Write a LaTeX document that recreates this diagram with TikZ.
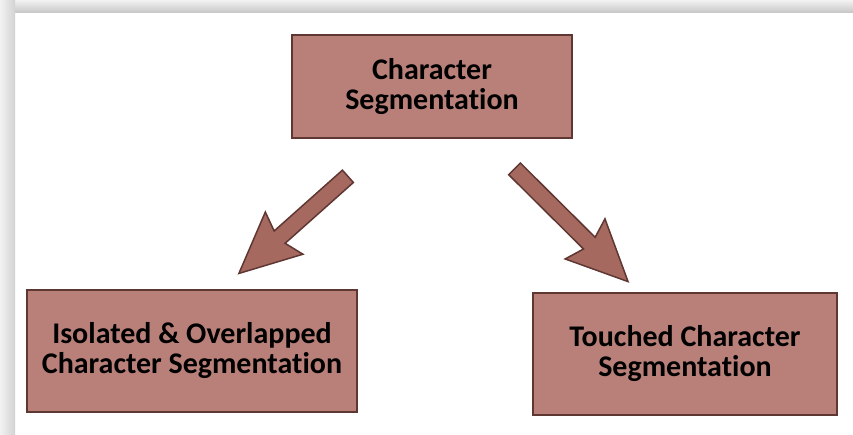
\documentclass[tikz,border=0pt]{standalone}
\usepackage{fontspec}
\setmainfont{Carlito}[Ligatures=NoCommon]
\usetikzlibrary{shapes.arrows}
\definecolor{boxfill}{RGB}{185,128,122}
\definecolor{boxedge}{RGB}{95,55,50}
\definecolor{arrowfill}{RGB}{165,105,96}
\begin{document}
\begin{tikzpicture}[x=1pt,y=-1pt,
    stage/.style={draw=boxedge,line width=2pt,fill=boxfill,align=center,
        font=\fontsize{30}{30}\selectfont\bfseries,inner sep=0pt},
    flow/.style={single arrow,draw=boxedge,line width=1.5pt,fill=arrowfill,
        inner sep=7.5pt,single arrow head extend=20pt,single arrow tip angle=50,
        single arrow head indent=6pt}]
    \fill[white] (0,0) rectangle (853,435);
    \shade[top color=gray!10,bottom color=gray!45] (0,0) rectangle (853,13);
    \shade[left color=gray!10,right color=gray!35] (0,0) rectangle (15,435);

    \node[stage,minimum width=280pt,minimum height=103pt] (seg) at (432,86.5) {Character\\Segmentation};
    \node[stage,minimum width=330pt,minimum height=122pt] (iso) at (192,351) {Isolated \& Overlapped\\Character Segmentation};
    \node[stage,minimum width=304pt,minimum height=122pt] (touch) at (685,354) {Touched Character\\Segmentation};

    \node[flow,minimum height=146pt,rotate=221.7] (toiso) at (300,219) {};
    \node[flow,minimum height=160pt,rotate=-44.8] (totouch) at (565,219) {};
\end{tikzpicture}
\end{document}
